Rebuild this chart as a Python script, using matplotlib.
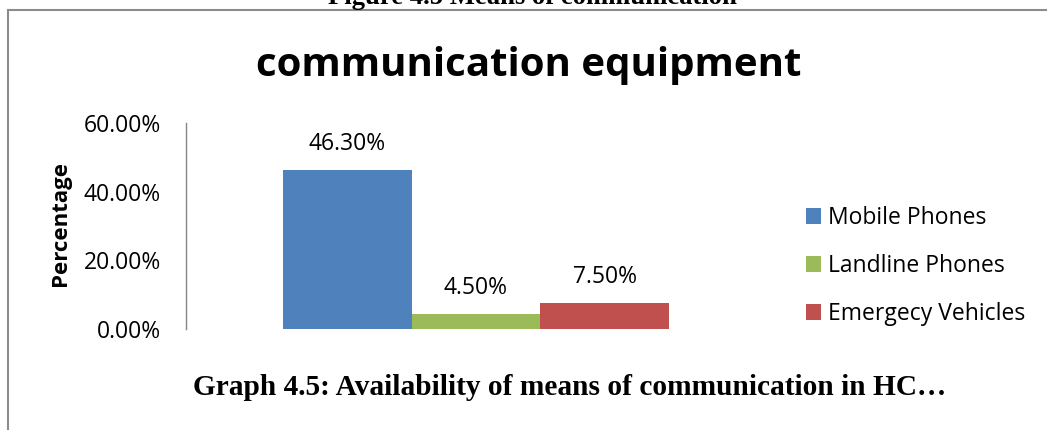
import matplotlib
matplotlib.use("Agg")
import matplotlib.pyplot as plt
from matplotlib.lines import Line2D

# Data
series = ["Mobile Phones", "Landline Phones", "Emergecy Vehicles"]
values = [46.30, 4.50, 7.50]  # percent
colors = ["#4F81BD", "#9BBB59", "#C0504D"]
y_ticks = [0, 20, 40, 60]

plt.rcParams['font.family'] = ['Open Sans', 'DejaVu Sans']

W, H = 1047, 430
fig = plt.figure(figsize=(W / 100, H / 100), dpi=100)

# plot area in pixels: x 186..766, y 123..329 (from top)
ax = fig.add_axes([186 / W, (H - 329) / H, 580 / W, 206 / H])

bars = []
for i, (name, v, c) in enumerate(zip(series, values, colors)):
    b = ax.bar(i - 1, v, width=1.0, color=c, label=name)
    ax.bar_label(b, labels=[f"{v:.2f}%"], padding=10, fontsize=16.5)
    bars.append(b)

ax.set_xlim(-2.25, 2.25)
ax.set_ylim(0, 60)
ax.set_yticks(y_ticks)
ax.set_yticklabels([f"{t:.2f}%" for t in y_ticks], fontsize=16.5)
ax.set_xticks([])
ax.tick_params(axis='y', length=0, pad=18)
for side in ["top", "right", "bottom"]:
    ax.spines[side].set_visible(False)
ax.spines["left"].set_color("#868686")
ax.spines["left"].set_linewidth(1.0)

ax.set_ylabel("Percentage", fontsize=16, fontweight="bold")
ax.yaxis.set_label_coords((71 - 186) / 580, 0.51)

# chart title
fig.text(529 / W, (H - 76) / H, "communication equipment", fontsize=29,
         fontweight="bold", ha="center", va="baseline")

# legend
fig.legend(handles=[b[0] for b in bars], labels=series, loc="center left",
           bbox_to_anchor=(806 / W, (H - 266) / H), frameon=False,
           fontsize=16.5, handlelength=0.65, handleheight=0.65,
           handletextpad=0.3, labelspacing=1.05, borderpad=0, borderaxespad=0)

# document captions (serif, bold)
fig.text(532 / W, (H - 4) / H, "Figure 4.5 Means of communication",
         family="Liberation Serif", fontweight="bold", fontsize=19.2,
         ha="center", va="baseline")
fig.text(570 / W, (H - 395) / H,
         "Graph 4.5: Availability of means of communication in HC\u2026",
         family="Liberation Serif", fontweight="bold", fontsize=21.2,
         ha="center", va="baseline")

# outer chart frame (top and left edges visible)
fig.add_artist(Line2D([8 / W, 8 / W], [0, (H - 10) / H], color="#8c8c8c", lw=1.5))
fig.add_artist(Line2D([8 / W, 1.0], [(H - 10) / H, (H - 10) / H], color="#8c8c8c", lw=1.5))

fig.savefig("out.png", dpi=100)
